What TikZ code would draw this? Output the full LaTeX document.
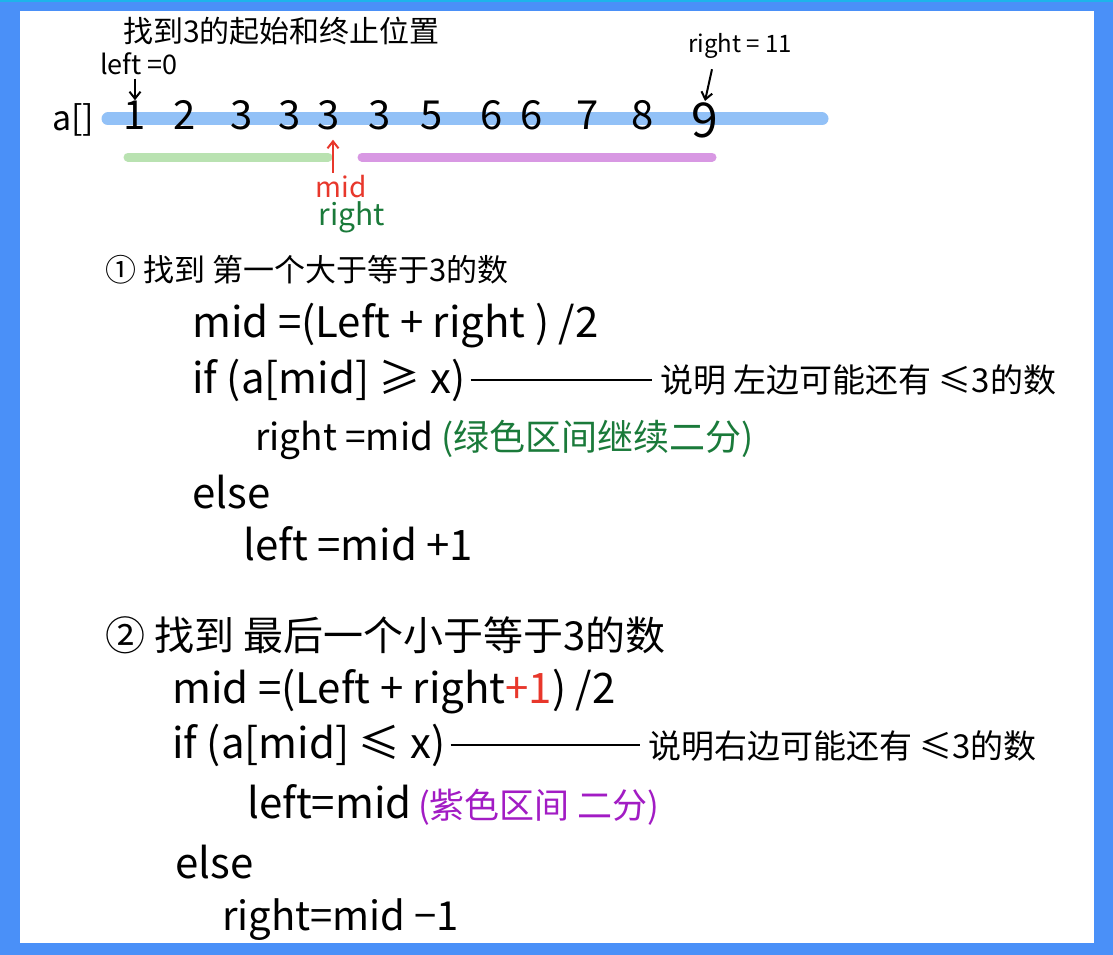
\documentclass[tikz,border=0pt]{standalone}
\usepackage{fontspec}
\newfontfamily\cjk{Noto Sans CJK SC}
\usetikzlibrary{positioning,arrows.meta}
\definecolor{frameblue}{HTML}{4A90F8}
\definecolor{framecyan}{HTML}{1DB4EA}
\definecolor{barblue}{HTML}{92C1F7}
\definecolor{bargreen}{HTML}{B9E2B1}
\definecolor{barpurple}{HTML}{D898E3}
\definecolor{penred}{HTML}{E8372B}
\definecolor{pengreen}{HTML}{1A7A3A}
\definecolor{penpurple}{HTML}{A21CC4}
\tikzset{
  txt/.style={inner sep=0pt,anchor=base,font=\cjk\fontsize{#1}{#1}\selectfont},
  code/.style={txt=#1,anchor=base west},
  code/.default=42,
  bar/.style={line width=#1,line cap=round},
  pen/.style={line width=2pt,-{Straight Barb[length=7pt,width=11pt]}}
}

\begin{document}
\begin{tikzpicture}[x=1pt,y=1pt]
\useasboundingbox (0,0) rectangle (1113,-955);
\fill[frameblue] (0,0) rectangle (1113,-955);
\fill[framecyan] (0,0) rectangle (1113,-2.5);
\fill[white] (20,-11) rectangle (1094,-943);
% array
\draw[bar=13pt,barblue] (108,-119) -- (822,-119);
\draw[bar=9pt,bargreen] (128,-157) -- (328,-157);
\draw[bar=9pt,barpurple] (362,-157) -- (712,-157);
\node[code=30] (title) at (123,-43) {找到3的起始和终止位置};
\node[code=34] (arr) at (52,-131) {a[]};
\foreach \x/\v [count=\i] in {135/1,185/2,242/3,290/3,329/3,380/3,432/5,492/6,532/6,588/7,643/8}
  \node[txt=40] (n\i) at (\x,-129) {\v};
\node[txt=48] (n12) at (705,-138) {9};
\node[code=27] (leftlbl) at (100,-75) {left =0};
\node[code=24] (rightlbl) at (688,-53) {right = 11};
\draw[pen,shorten <=3pt] (leftlbl.south -| n1.north) -- (n1.north);
\draw[pen] ([xshift=24pt,yshift=-10pt]rightlbl.south west) -- ([yshift=2pt]n12.north);
\node[txt=28,penred] (midlbl) at (341,-197) {mid};
\node[txt=30,pengreen] (midright) at (352,-225) {right};
\draw[pen,penred] ([xshift=-8pt,yshift=2pt]midlbl.north) -- ([xshift=4pt,yshift=-10pt]n5.south);
% first
\node[code=31] (h1) at (105,-281) {① 找到 第一个大于等于3的数};
\node[code] (a1) at (192,-337) {mid =(Left + right ) /2};
\node[code] (a2) at (192,-393) {if (a[mid] ≥ x)};
\node[code=33] (note1) at (660,-392) {说明 左边可能还有 ≤3的数};
\draw[line width=1.5pt,shorten <=5pt,shorten >=8pt] (a2.east) -- (a2.east -| note1.west);
\node[code=37] (a3) at (255,-450) {right =mid};
\node[code=36,pengreen] (gnote) at ([xshift=8pt]a3.base east) {(绿色区间继续二分)};
\node[code] (a4) at (192,-508) {else};
\node[code] (a5) at (243,-560) {left =mid +1};
% second
\node[code=40] (h2) at (105,-650) {② 找到 最后一个小于等于3的数};
\node[code] (b1) at (172,-703) {mid =(Left + right{\color{penred}+1}) /2};
\node[code] (b2) at (172,-758) {if (a[mid] ≤ x)};
\node[code=33] (note2) at (648,-758) {说明右边可能还有 ≤3的数};
\draw[line width=1.5pt,shorten <=5pt,shorten >=8pt] (b2.east) -- (b2.east -| note2.west);
\node[code] (b3) at (247,-818) {left=mid};
\node[code=35,penpurple] (pnote) at ([xshift=6pt]b3.base east) {(紫色区间 二分)};
\node[code] (b4) at (175,-878) {else};
\node[code=40] (b5) at (222,-930) {right=mid −1};
\end{tikzpicture}
\end{document}
